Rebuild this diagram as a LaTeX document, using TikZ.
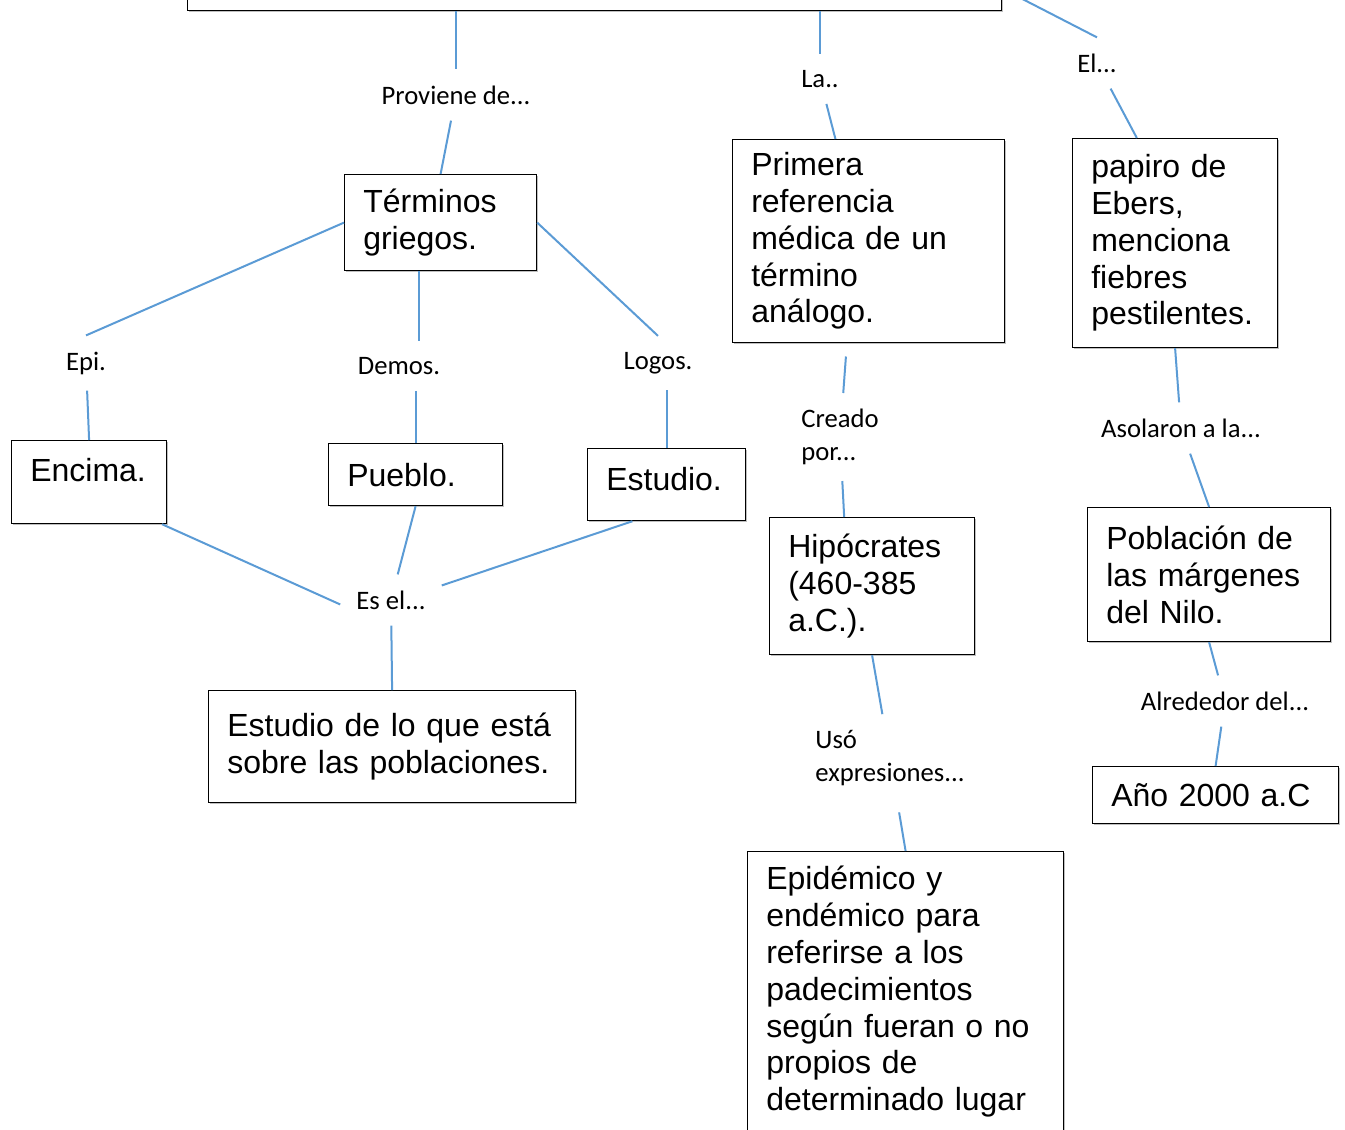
\documentclass[tikz,border=0pt]{standalone}
\usepackage{fontspec}
\setmainfont{Liberation Sans}
\newfontfamily\linkfont{Carlito}
\usetikzlibrary{shadows}
\definecolor{linkblue}{RGB}{91,155,213}

\begin{document}
\begin{tikzpicture}[x=0.75pt, y=-0.75pt,
    concept/.style={draw, line width=0.9pt, fill=white, anchor=north west, align=left,
        inner xsep=14pt, inner ysep=6pt, font=\fontsize{24}{27.6}\selectfont,
        drop shadow={shadow xshift=0.7pt, shadow yshift=-0.7pt, fill=black!50}},
    linkword/.style={font=\linkfont\fontsize{20}{24.5}\selectfont, inner sep=12pt, align=left},
    link/.style={draw=linkblue, line width=1.5pt}]
    \useasboundingbox (0,0) rectangle (1345,1129);
    \clip (0,0) rectangle (1345,1129);

    % Concept boxes
    \node[concept, minimum width=610.5pt, minimum height=33pt, inner sep=0pt] (tema) at (187,-34) {};
    \node[concept, text width=116pt, minimum height=72pt] (terminos) at (344,174) {Términos\\griegos.};
    \node[concept, text width=88.25pt, minimum height=62.25pt, text depth=19pt] (encima) at (11,440) {Encima.};
    \node[concept, text width=102.5pt, minimum height=46.5pt] (pueblo) at (328,443) {Pueblo.};
    \node[concept, text width=90.5pt, minimum height=54pt, text depth=9pt] (estudio) at (587,448) {Estudio.};
    \node[concept, text width=247.25pt, minimum height=84pt] (estudiode) at (208,690) {Estudio de lo que está\\sobre las poblaciones.};
    \node[concept, text width=176pt, minimum height=152.25pt] (primera) at (732,139) {Primera\\referencia\\médica de un\\término\\análogo.};
    \node[concept, text width=125.75pt, minimum height=156.75pt] (papiro) at (1072,138) {papiro de\\Ebers,\\menciona\\fiebres\\pestilentes.};
    \node[concept, text width=125.75pt, minimum height=102.75pt] (hipo) at (769,517) {Hipócrates\\(460-385\\a.C.).};
    \node[concept, text width=154.25pt, minimum height=100.5pt] (poblacion) at (1087,507) {Población de\\las márgenes\\del Nilo.};
    \node[concept, text width=156.5pt, minimum height=42.75pt] (ano) at (1092,766) {Año 2000 a.C};
    \node[concept, text width=209pt, inner ysep=11pt] (epid) at (747,851) {Epidémico y\\endémico para\\referirse a los\\padecimientos\\según fueran o no\\propios de\\determinado lugar};

    % Linking words
    \node[linkword] (proviene) at (456,95) {Proviene de...};
    \node[linkword] (la) at (820,79) {La..};
    \node[linkword] (el) at (1097,63) {El...};
    \node[linkword] (epi) at (86,363) {Epi.};
    \node[linkword] (demos) at (399,366) {Demos.};
    \node[linkword] (logos) at (658,363) {Logos.};
    \node[linkword] (esel) at (391,600) {Es el...};
    \node[linkword] (creado) at (840,437) {Creado\\por...};
    \node[linkword] (asolaron) at (1181,428) {Asolaron a la...};
    \node[linkword] (uso) at (890,758) {Usó\\expresiones...};
    \node[linkword] (alrededor) at (1225,701) {Alrededor del...};

    % Connectors
    \draw[link] (proviene |- tema.south) -- (proviene);
    \draw[link] (proviene) -- (terminos.north);
    \draw[link] (la |- tema.south) -- (la);
    \draw[link] (la) -- (primera.108);
    \draw[link, shorten <=15pt] (tema.east) -- (el.north);
    \draw[link] (el) -- (papiro.110);
    \draw[link] (terminos.west) -- (epi.north);
    \draw[link] (epi) -- (encima.north);
    \draw[link] (terminos.246) -- (terminos.246 |- demos.north);
    \draw[link] (pueblo.north |- demos.south) -- (pueblo.north);
    \draw[link] (terminos.east) -- (logos.north);
    \draw[link] (estudio.north |- logos.south) -- (estudio.north);
    \draw[link] (encima.-30) -- (esel.185);
    \draw[link] (pueblo.south) -- (esel);
    \draw[link] (estudio.227) -- (esel.16);
    \draw[link] (esel) -- (estudiode.north);
    \draw[link, shorten <=10pt] (primera.258) -- (creado);
    \draw[link] (creado) -- (hipo.112);
    \draw[link] (hipo.south) -- (uso);
    \draw[link, shorten <=8pt] (uso) -- (epid.north);
    \draw[link] (papiro.south) -- (asolaron);
    \draw[link] (asolaron) -- (poblacion.north);
    \draw[link] (poblacion.south) -- (alrededor);
    \draw[link] (alrededor) -- (ano.north);
\end{tikzpicture}
\end{document}
